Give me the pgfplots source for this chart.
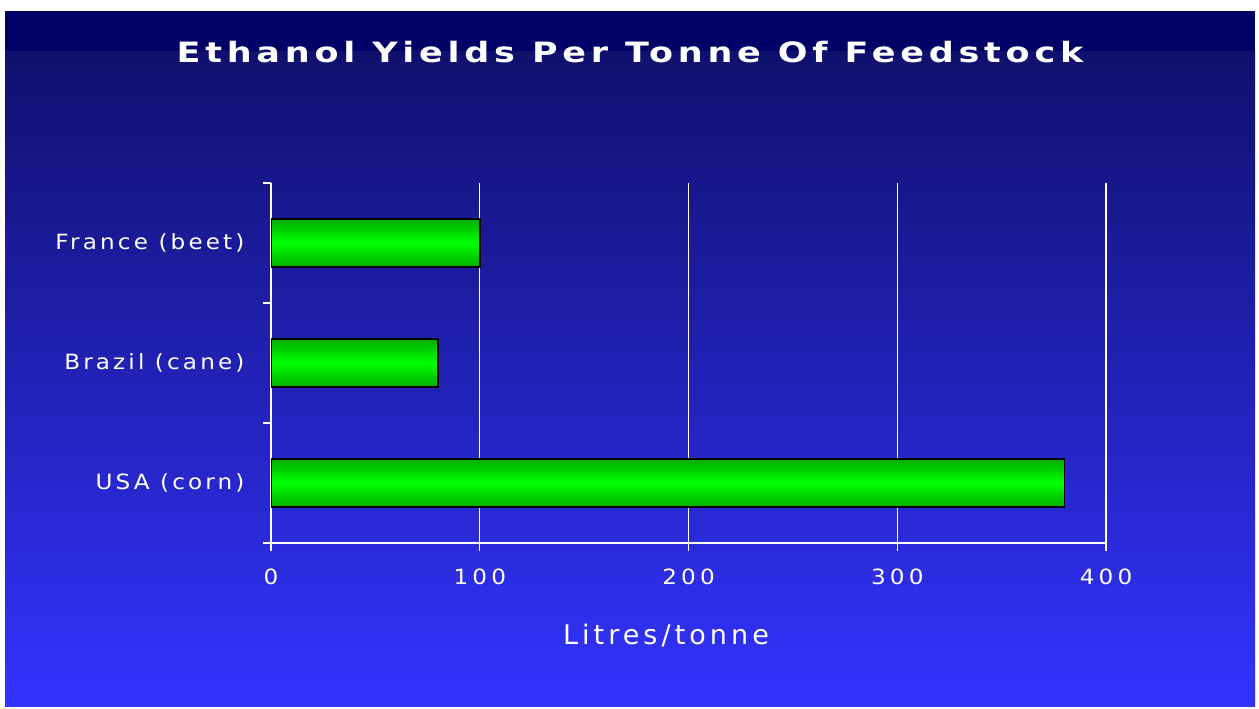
\documentclass[border=0pt]{standalone}
\usepackage{fontspec}
\setmainfont{DejaVu Sans}
\newfontfamily\labfont[LetterSpace=15,FakeStretch=1.1]{DejaVu Sans}
\newfontfamily\numfont[LetterSpace=20,FakeStretch=1.1]{DejaVu Sans}
\newfontfamily\xlabfont[LetterSpace=15]{DejaVu Sans}
\newfontfamily\titlefont[LetterSpace=17,FakeStretch=1.25]{DejaVu Sans}
\usepackage{pgfplots}
\pgfplotsset{compat=1.18}

\definecolor{bgtop}{RGB}{0,0,102}
\definecolor{bgmid}{RGB}{16,16,110}
\definecolor{bgbot}{RGB}{51,51,255}
\definecolor{bardark}{RGB}{0,70,0}
\definecolor{barlight}{RGB}{0,255,0}
\pgfdeclareverticalshading{greenbar}{100bp}{color(0bp)=(bardark); color(25bp)=(bardark!45!barlight); color(50bp)=(barlight); color(75bp)=(bardark!45!barlight); color(100bp)=(bardark)}

\begin{document}
\begin{tikzpicture}
% page and background
\fill[white] (0pt,0pt) rectangle (1259pt,709pt);
\fill[bgtop] (5pt,657pt) rectangle (1255pt,698pt);
\shade[top color=bgmid, bottom color=bgbot] (5pt,2pt) rectangle (1255pt,657pt);
\node[text=white, font=\titlefont\bfseries\fontsize{28}{32}\selectfont] at (630pt,657pt) {Ethanol Yields Per Tonne Of Feedstock};

\begin{axis}[
  at={(271pt,166pt)}, anchor=south west,
  scale only axis, width=835pt, height=360pt,
  xmin=0, xmax=400, ymin=-0.5, ymax=2.5,
  axis x line*=bottom, axis y line*=left,
  axis line style={white, line width=1.2pt, -},
  xtick={0,100,200,300,400},
  xmajorgrids, grid style={white, line width=1.2pt},
  ytick={-0.5,0.5,1.5,2.5}, yticklabels={},
  extra y ticks={0,1,2},
  extra y tick labels={USA (corn), Brazil (cane), France (beet)},
  extra y tick style={major tick length=0pt, grid=none},
  tick align=outside, major tick length=8pt,
  tick style={white, line width=1.2pt},
  /pgf/number format/assume math mode=true,
  ticklabel style={text=white},
  xticklabel style={yshift=-14pt, font=\numfont\fontsize{21}{25}\selectfont},
  yticklabel style={xshift=-23pt, font=\labfont\fontsize{21}{25}\selectfont},
  xlabel={Litres/tonne},
  xlabel style={at={(axis description cs:0.473,-0.256)}, anchor=center,
    text=white, font=\xlabfont\fontsize{27}{32}\selectfont},
  xbar, bar width=48pt,
  barstyle/.style={draw=black, line width=1.5pt, shading=greenbar, bar shift=0pt},
]
\addplot[barstyle] coordinates {(380,0)};
\addplot[barstyle] coordinates {(80,1)};
\addplot[barstyle] coordinates {(100,2)};
\end{axis}
\end{tikzpicture}
\end{document}
